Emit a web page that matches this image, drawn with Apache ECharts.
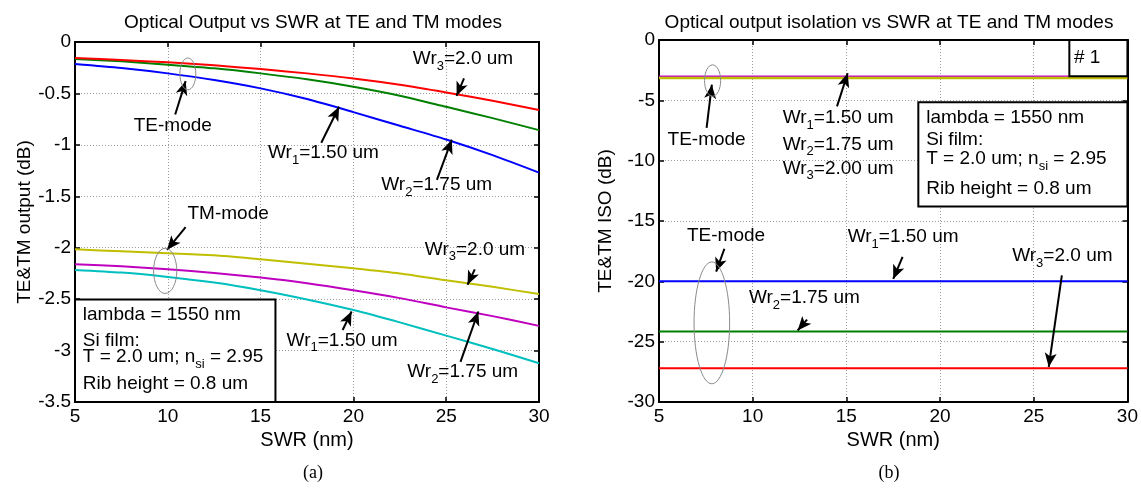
<!DOCTYPE html>
<html>
<head>
<meta charset="utf-8">
<script src="https://cdn.jsdelivr.net/npm/echarts@6/dist/echarts.min.js"></script>
<style>
  html, body { margin: 0; padding: 0; background: #fff; }
  #main { width: 1141px; height: 488px; }
</style>
</head>
<body>
<div id="main"></div>
<script>
// SWR values (nm)
var swr = [5, 7.5, 10, 12.5, 15, 17.5, 20, 22.5, 25, 27.5, 30];

// (a) optical output, TE mode (dB)
var teWr1 = [-0.214, -0.253, -0.305, -0.37, -0.451, -0.555, -0.682, -0.815, -0.948, -1.1, -1.27];
var teWr2 = [-0.166, -0.188, -0.221, -0.256, -0.305, -0.363, -0.435, -0.522, -0.63, -0.74, -0.857];
var teWr3 = [-0.156, -0.175, -0.198, -0.227, -0.263, -0.305, -0.354, -0.415, -0.49, -0.571, -0.662];
// (a) optical output, TM mode (dB)
var tmWr1 = [-2.216, -2.242, -2.284, -2.339, -2.413, -2.503, -2.606, -2.726, -2.855, -2.984, -3.123];
var tmWr2 = [-2.161, -2.18, -2.209, -2.245, -2.29, -2.345, -2.413, -2.49, -2.58, -2.665, -2.76];
var tmWr3 = [-2.016, -2.035, -2.054, -2.074, -2.113, -2.155, -2.2, -2.25, -2.316, -2.38, -2.451];

// (b) isolation (dB)
var isoTeA = [-3.0, -3.0, -3.0, -3.0, -3.0, -3.0, -3.0, -3.0, -3.0, -3.0, -3.0];
var isoTeB = [-3.12, -3.12, -3.12, -3.12, -3.12, -3.12, -3.12, -3.12, -3.12, -3.12, -3.12];
var isoWr1 = [-20, -20, -20, -20, -20, -20, -20, -20, -20, -20, -20];
var isoWr2 = [-24.15, -24.15, -24.15, -24.15, -24.15, -24.15, -24.15, -24.15, -24.15, -24.15, -24.15];
var isoWr3 = [-27.2, -27.2, -27.2, -27.2, -27.2, -27.2, -27.2, -27.2, -27.2, -27.2, -27.2];

var FONT = '"Liberation Sans", Arial, sans-serif';

function pairs(ys) {
  return swr.map(function (x, i) { return [x, ys[i]]; });
}

function arrows(list) {
  return list.map(function (a) {
    return [
      { coord: [a[0], a[1]], symbol: 'none' },
      { coord: [a[2], a[3]], symbol: 'arrow', symbolSize: [9, 14] }
    ];
  });
}

function line(name, g, ys, color, w, extra) {
  var s = {
    name: name, type: 'line', xAxisIndex: g * 2, yAxisIndex: g * 2,
    data: pairs(ys), smooth: 0.25, showSymbol: false,
    lineStyle: { color: color, width: w || 2 }, itemStyle: { color: color },
    silent: true, z: 3
  };
  if (extra) s.markLine = extra;
  return s;
}

function arrowLines(list) {
  return {
    silent: true, animation: false, label: { show: false },
    lineStyle: { color: '#000', width: 2, type: 'solid' },
    data: arrows(list)
  };
}

// arrows in data coords [x0, y0, x1(tip), y1(tip)]
var arrowsA = [
  [25.96, -0.354, 25.56, -0.523],
  [10.4, -0.705, 10.96, -0.38],
  [18.27, -0.98, 19.23, -0.63],
  [24.5, -1.34, 25.3, -0.95],
  [10.96, -1.8, 9.96, -2.02],
  [26.54, -2.21, 26.15, -2.36],
  [19.42, -2.8, 19.9, -2.62],
  [25.77, -3.11, 26.73, -2.62]
];
var arrowsB = [
  [7.54, -7.28, 7.82, -3.7],
  [14.5, -5.5, 15.07, -2.75],
  [8.49, -17.3, 8.05, -19.2],
  [18.0, -17.97, 17.5, -19.8],
  [12.9, -23.17, 12.4, -24.07],
  [26.5, -19.5, 25.8, -27.1]
];

function xAxes(g) {
  return [{
    gridIndex: g, type: 'value', min: 5, max: 30, interval: 5, position: 'bottom',
    name: 'SWR (nm)', nameLocation: 'middle', nameGap: 23,
    nameTextStyle: { fontSize: 20, color: '#000', fontFamily: FONT },
    axisLine: { onZero: false, lineStyle: { color: '#000', width: 2 } },
    axisTick: { inside: true, length: 5, lineStyle: { color: '#000', width: 1.5 } },
    axisLabel: { fontSize: 19, color: '#000', fontFamily: FONT, margin: 5 },
    splitLine: { show: true, lineStyle: { color: '#9a9a9a', type: [1, 2], width: 1 } }
  }, {
    gridIndex: g, type: 'value', min: 5, max: 30, interval: 5, position: 'top',
    axisLine: { onZero: false, lineStyle: { color: '#000', width: 2 } },
    axisTick: { inside: true, length: 5, lineStyle: { color: '#000', width: 1.5 } },
    axisLabel: { show: false }, splitLine: { show: false }
  }];
}

function yAxes(g, min, step, name, gap) {
  return [{
    gridIndex: g, type: 'value', min: min, max: 0, interval: step, position: 'left',
    name: name, nameLocation: 'middle', nameGap: gap,
    nameTextStyle: { fontSize: 19, color: '#000', fontFamily: FONT },
    axisLine: { onZero: false, lineStyle: { color: '#000', width: 2 } },
    axisTick: { inside: true, length: 5, lineStyle: { color: '#000', width: 1.5 } },
    axisLabel: { fontSize: 19, color: '#000', fontFamily: FONT, margin: 4 },
    splitLine: { show: true, lineStyle: { color: '#9a9a9a', type: [1, 2], width: 1 } }
  }, {
    gridIndex: g, type: 'value', min: min, max: 0, interval: step, position: 'right',
    axisLine: { onZero: false, lineStyle: { color: '#000', width: 2 } },
    axisTick: { inside: true, length: 5, lineStyle: { color: '#000', width: 1.5 } },
    axisLabel: { show: false }, splitLine: { show: false }
  }];
}

var myChart = echarts.init(document.getElementById('main'));
var option = {
  animation: false,
  backgroundColor: '#fff',
  title: [
    { text: 'Optical Output vs SWR at TE and TM modes', left: 308, top: 8, textAlign: 'center',
      textStyle: { fontSize: 19, fontWeight: 'normal', color: '#000', fontFamily: FONT } },
    { text: 'Optical output isolation vs SWR at TE and TM modes', left: 884, top: 8, textAlign: 'center',
      textStyle: { fontSize: 19, fontWeight: 'normal', color: '#000', fontFamily: FONT } },
    { text: '(a)', left: 308, top: 459, textAlign: 'center',
      textStyle: { fontSize: 18, fontWeight: 'normal', color: '#000', fontFamily: '"Liberation Serif", serif' } },
    { text: '(b)', left: 884, top: 459, textAlign: 'center',
      textStyle: { fontSize: 18, fontWeight: 'normal', color: '#000', fontFamily: '"Liberation Serif", serif' } }
  ],
  grid: [
    { left: 75, right: 602, top: 42, bottom: 86 },
    { left: 659, right: 10, top: 40, bottom: 86 }
  ],
  xAxis: xAxes(0).concat(xAxes(1)),
  yAxis: yAxes(0, -3.5, 0.5, 'TE&TM output (dB)', 41).concat(yAxes(1, -30, 5, 'TE&TM ISO (dB)', 44)),
  series: [
    line('TE Wr1', 0, teWr1, '#0000ff', 2, arrowLines(arrowsA)),
    line('TE Wr2', 0, teWr2, '#008000'),
    line('TE Wr3', 0, teWr3, '#ff0000'),
    line('TM Wr1', 0, tmWr1, '#00bfbf'),
    line('TM Wr2', 0, tmWr2, '#bf00bf'),
    line('TM Wr3', 0, tmWr3, '#bfbf00'),
    line('ISO TE b', 1, isoTeB, '#bfbf00', 3, arrowLines(arrowsB)),
    line('ISO TE a', 1, isoTeA, '#bf00bf', 1.2),
    line('ISO Wr1', 1, isoWr1, '#0000ff'),
    line('ISO Wr2', 1, isoWr2, '#008000'),
    line('ISO Wr3', 1, isoWr3, '#ff0000')
  ]
};
myChart.setOption(option);

// annotations ------------------------------------------------------------
var rich = {
  n: { fontSize: 19, fontFamily: FONT, color: '#000', lineHeight: 22 },
  s: { fontSize: 13, fontFamily: FONT, color: '#000', lineHeight: 22, padding: [15, 0, 0, 0] }
};
function P(g, x, y) { return myChart.convertToPixel({ gridIndex: g }, [x, y]); }

// [grid, x, y, text, align]
var texts = [
  [0, 23.2, -0.16, '{n|Wr}{s|3}{n|=2.0 um}', 'left'],
  [0, 10.27, -0.818, '{n|TE-mode}', 'center'],
  [0, 15.4, -1.08, '{n|Wr}{s|1}{n|=1.50 um}', 'left'],
  [0, 21.5, -1.386, '{n|Wr}{s|2}{n|=1.75 um}', 'left'],
  [0, 11.06, -1.67, '{n|TM-mode}', 'left'],
  [0, 23.85, -2.016, '{n|Wr}{s|3}{n|=2.0 um}', 'left'],
  [0, 16.4, -2.9, '{n|Wr}{s|1}{n|=1.50 um}', 'left'],
  [0, 22.9, -3.21, '{n|Wr}{s|2}{n|=1.75 um}', 'left'],
  [0, 5.42, -2.65, '{n|lambda = 1550 nm}', 'left'],
  [0, 5.42, -2.9, '{n|Si film:}', 'left'],
  [0, 5.42, -3.06, '{n|T = 2.0 um; n}{s|si}{n| = 2.95}', 'left'],
  [0, 5.42, -3.32, '{n|Rib height = 0.8 um}', 'left'],
  [1, 27.85, -1.5, '{n|# 1}', 'center'],
  [1, 7.54, -8.24, '{n|TE-mode}', 'center'],
  [1, 11.6, -6.46, '{n|Wr}{s|1}{n|=1.50 um}', 'left'],
  [1, 11.6, -8.65, '{n|Wr}{s|2}{n|=1.75 um}', 'left'],
  [1, 11.6, -10.63, '{n|Wr}{s|3}{n|=2.00 um}', 'left'],
  [1, 19.26, -6.46, '{n|lambda = 1550 nm}', 'left'],
  [1, 19.26, -8.24, '{n|Si film:}', 'left'],
  [1, 19.26, -9.83, '{n|T = 2.0 um; n}{s|si}{n| = 2.95}', 'left'],
  [1, 19.26, -12.36, '{n|Rib height = 0.8 um}', 'left'],
  [1, 8.58, -16.2, '{n|TE-mode}', 'center'],
  [1, 15.07, -16.3, '{n|Wr}{s|1}{n|=1.50 um}', 'left'],
  [1, 9.8, -21.4, '{n|Wr}{s|2}{n|=1.75 um}', 'left'],
  [1, 23.85, -17.86, '{n|Wr}{s|3}{n|=2.0 um}', 'left']
];
// [grid, cx, cy, width, height] in data units
var ellipses = [
  [0, 11.08, -0.31, 0.86, 0.31],
  [0, 9.86, -2.225, 1.25, 0.44],
  [1, 7.86, -3.36, 0.86, 2.6],
  [1, 7.82, -23.44, 1.9, 10.1]
];
// [grid, x0, y0, x1, y1]
var boxes = [
  [0, 5, -2.503, 15.8, -3.5],
  [1, 18.84, -5.16, 30, -13.79],
  [1, 26.9, 0, 30, -3.0]
];

var graphic = [];
boxes.forEach(function (b) {
  var p0 = P(b[0], b[1], b[2]), p1 = P(b[0], b[3], b[4]);
  graphic.push({
    type: 'rect', z: 10,
    shape: { x: p0[0], y: p0[1], width: p1[0] - p0[0], height: p1[1] - p0[1] },
    style: { fill: '#fff', stroke: '#000', lineWidth: 2 }
  });
});
ellipses.forEach(function (e) {
  var c = P(e[0], e[1], e[2]);
  var a = P(e[0], e[1] + e[3] / 2, e[2] + e[4] / 2);
  graphic.push({
    type: 'ellipse', z: 11,
    shape: { cx: c[0], cy: c[1], rx: Math.abs(a[0] - c[0]), ry: Math.abs(a[1] - c[1]) },
    style: { fill: 'none', stroke: '#8a8a8a', lineWidth: 1 }
  });
});
texts.forEach(function (t) {
  var p = P(t[0], t[1], t[2]);
  graphic.push({
    type: 'text', z: 12, x: p[0], y: p[1],
    style: { text: t[3], rich: rich, align: t[4], verticalAlign: 'middle', fill: '#000' }
  });
});
myChart.setOption({ graphic: graphic });
</script>
</body>
</html>
